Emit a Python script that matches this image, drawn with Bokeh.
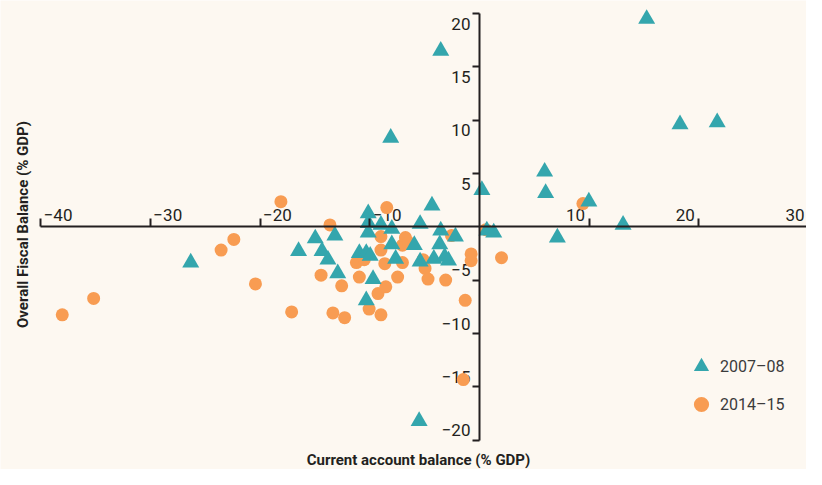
from math import pi
from bokeh.plotting import figure
from bokeh.models import (Range1d, LinearAxis, FixedTicker, CustomJSTickFormatter,
                          Legend, LegendItem, Label)
from bokeh.core.properties import value
from bokeh.embed import file_html
from bokeh.resources import INLINE

# ---------------- data ----------------
series_a = "2007–08"
series_b = "2014–15"

ca_2007 = [15.24, -3.53, 18.28, 21.67, -8.09, 5.94, 6.03, 0.22, 9.97, -4.33,
           13.09, 7.10, 0.67, 1.30, -26.32, -5.50, -10.14, -10.14, -10.14, -8.98,
           -7.99, -7.99, -10.95, -10.32, -9.96, -7.64, -9.70, -10.32, -14.97, -13.18,
           -16.49, -14.35, -13.81, -12.92, -5.41, -3.53, -2.19, -5.94, -3.62, -5.41,
           -4.16, -3.17, -2.82]
fb_2007 = [19.49, 16.50, 9.61, 9.79, 8.34, 5.17, 3.17, 3.45, 2.36, 1.99,
           0.18, -1.00, -0.36, -0.54, -3.35, -18.22, 1.27, 0.36, -0.54, 0.18,
           -0.18, -1.63, -2.45, -2.45, -2.72, -2.99, -4.90, -6.89, -1.09, -0.82,
           -2.27, -2.27, -3.08, -4.35, 0.27, -0.36, -0.91, -1.72, -1.63, -3.26,
           -2.99, -2.81, -3.17]

ca_2014 = [-38.03, -35.17, -23.55, -22.39, -20.42, -18.10, -17.12, -14.44, -13.63, -13.36,
           -12.56, -12.29, -11.22, -10.95, -10.06, -8.98, -9.25, -8.54, -8.63, -8.98,
           -8.45, -7.46, -7.02, -6.75, -7.02, -5.14, -4.96, -4.69, -3.08, -2.55,
           -1.30, -0.76, -0.76, 0.58, 2.01, 9.43, -1.47, -10.50, -8.98, -6.48]
fb_2014 = [-8.25, -6.71, -2.18, -1.18, -5.35, 2.36, -7.98, -4.53, 0.18, -8.07,
           -5.53, -8.52, -3.35, -4.71, -7.71, -8.25, -6.26, -5.62, -3.45, -0.91,
           1.81, -4.71, -1.72, -1.00, -3.35, -3.08, -3.90, -4.90, -4.99, -0.82,
           -6.89, -2.54, -3.17, -0.27, -2.90, 2.18, -14.32, -3.08, -2.18, -1.45]

x_ticks = [-40, -30, -20, -10, 10, 20, 30]
y_ticks = [-20, -15, -10, -5, 5, 10, 15, 20]
x_title = "Current account balance (% GDP)"
y_title = "Overall Fiscal Balance (% GDP)"


def tick_text(v):
    return ("−" + str(-v)) if v < 0 else str(v)


# ---------------- styling ----------------
FONT = "Roboto"
BG = "#FDF8F1"
INK = "#231F20"
TEAL = "#34A6AD"
ORANGE = "#F89C52"

W, H = 806, 469

p = figure(width=W, height=H, output_backend="svg", toolbar_location=None,
           x_range=Range1d(-43.66, 29.81), y_range=Range1d(-22.75, 21.22),
           x_axis_location=None, y_axis_location=None,
           min_border=0, outline_line_color=None,
           background_fill_color=BG, border_fill_color=BG)
p.grid.grid_line_color = None

blank = CustomJSTickFormatter(code="return ''")

xaxis = LinearAxis(fixed_location=0, bounds=(-40, 40),
                   ticker=FixedTicker(ticks=x_ticks), formatter=blank,
                   axis_line_color=INK, axis_line_width=2,
                   major_tick_line_color=INK, major_tick_line_width=2,
                   major_tick_in=8, major_tick_out=0,
                   minor_tick_line_color=None)
yaxis = LinearAxis(fixed_location=0, bounds=(-20, 20),
                   ticker=FixedTicker(ticks=y_ticks), formatter=blank,
                   axis_line_color=INK, axis_line_width=2,
                   major_tick_line_color=INK, major_tick_line_width=2,
                   major_tick_in=0, major_tick_out=7,
                   minor_tick_line_color=None)
p.add_layout(xaxis, "below")
p.add_layout(yaxis, "left")

# tick labels
xn = [v for v in x_ticks if v < 0]
xp = [v for v in x_ticks if v > 0]
yn = [v for v in y_ticks if v < 0]
yp = [v for v in y_ticks if v > 0]
common = dict(text_font=value(FONT), text_font_size="17px", text_color=INK)
p.text(x=xn, y=[0] * len(xn), text=[tick_text(v) for v in xn],
       text_align="left", text_baseline="middle", x_offset=3, y_offset=-12, **common)
p.text(x=xp, y=[0] * len(xp), text=[tick_text(v) for v in xp],
       text_align="right", text_baseline="middle", x_offset=-4, y_offset=-12, **common)
p.text(x=[0] * len(yp), y=yp, text=[tick_text(v) for v in yp],
       text_align="right", text_baseline="middle", x_offset=-9, y_offset=10, **common)
p.text(x=[0] * len(yn), y=yn, text=[tick_text(v) for v in yn],
       text_align="right", text_baseline="middle", x_offset=-9, y_offset=-10, **common)

# points
r_b = p.scatter(ca_2014, fb_2014, marker="circle", size=13,
                fill_color=ORANGE, line_color=None)
r_a = p.scatter(ca_2007, fb_2007, marker="triangle", size=17,
                fill_color=TEAL, line_color=None)

# titles
p.add_layout(Label(x=418, y=10, x_units="screen", y_units="screen", text=x_title,
                   text_font=FONT, text_font_size="15px", text_font_style="bold",
                   text_color=INK, text_align="center", text_baseline="middle"))
p.add_layout(Label(x=22, y=245, x_units="screen", y_units="screen", text=y_title,
                   angle=pi / 2, text_font=FONT, text_font_size="15px",
                   text_font_style="bold", text_color=INK,
                   text_align="center", text_baseline="middle"))

legend = Legend(items=[LegendItem(label=series_a, renderers=[r_a]),
                       LegendItem(label=series_b, renderers=[r_b])],
                location=(682, 46), glyph_width=38, glyph_height=38, spacing=-9,
                padding=0, margin=0, label_standoff=-4,
                background_fill_alpha=0, border_line_color=None,
                label_text_font=FONT, label_text_font_size="16px",
                label_text_color="#3B3B3B")
p.add_layout(legend)

open("out.html", "w").write(file_html(p, INLINE))
